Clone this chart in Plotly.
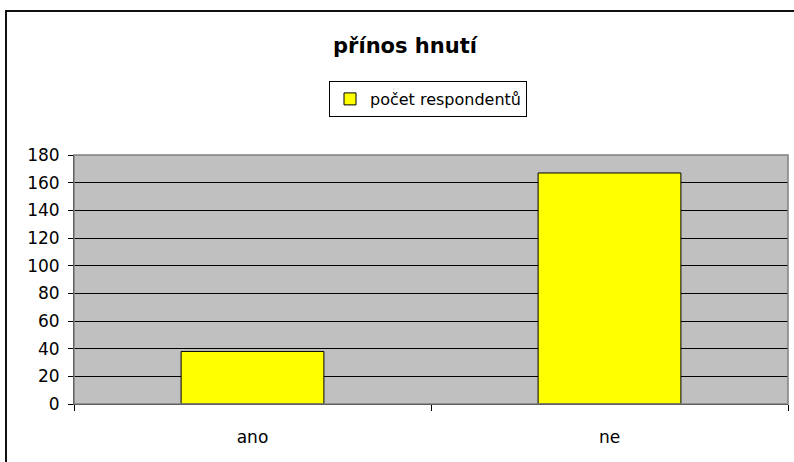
import plotly.graph_objects as go

categories = ["ano", "ne"]
values = [38, 167]
series_name = "počet respondentů"
title_text = "přínos hnutí"
y_ticks = [0, 20, 40, 60, 80, 100, 120, 140, 160, 180]

W, H = 794, 462
L, R, T, B = 74, 6, 155, 58
pw, ph = W - L - R, H - T - B

FONT = "DejaVu Sans"

fig = go.Figure()
fig.add_trace(go.Bar(
    x=categories, y=values, name=series_name,
    marker=dict(color="#FFFF00", line=dict(color="#000000", width=1)),
    showlegend=True,
))

fig.update_layout(
    width=W, height=H,
    margin=dict(l=L, r=R, t=T, b=B, autoexpand=False),
    paper_bgcolor="white",
    plot_bgcolor="#C0C0C0",
    bargap=0.6,
    font=dict(family=FONT, size=16, color="black"),
    title=dict(text="<b>" + title_text + "</b>", x=405 / W, xanchor="center",
               y=1 - 46 / H, yanchor="middle", yref="container",
               font=dict(family=FONT, size=21, color="black")),
    legend=dict(orientation="h", x=(329 - L) / pw, xanchor="left",
                y=1 + (T - 81) / ph, yanchor="top",
                bgcolor="white", bordercolor="black", borderwidth=1,
                font=dict(family=FONT, size=16, color="black"),
                itemwidth=30),
    xaxis=dict(type="category", showline=True, linecolor="black", linewidth=1,
               ticks="outside", tickson="boundaries", ticklen=6, tickcolor="black",
               showgrid=False, ticklabelstandoff=18,
               tickfont=dict(family=FONT, size=17, color="black")),
    yaxis=dict(range=[0, 180], tickvals=y_ticks, showline=True, linecolor="black",
               linewidth=1, ticks="outside", ticklen=5, tickcolor="black",
               showgrid=True, gridcolor="black", gridwidth=1, zeroline=False,
               ticklabelstandoff=5,
               tickfont=dict(family=FONT, size=17, color="black")),
    shapes=[
        dict(type="rect", xref="paper", yref="paper", x0=0, x1=1, y0=0, y1=1,
             line=dict(color="#808080", width=1.5), layer="above"),
        dict(type="rect", xref="paper", yref="paper",
             x0=(6 - L) / pw, x1=1.2, y0=-0.5, y1=1 + (T - 11) / ph,
             line=dict(color="#111111", width=2), layer="above"),
    ],
)

fig.write_html(
    "out.html",
    config={"displayModeBar": False},
    post_script="document.body.style.margin='0';document.body.style.overflow='hidden';",
)
